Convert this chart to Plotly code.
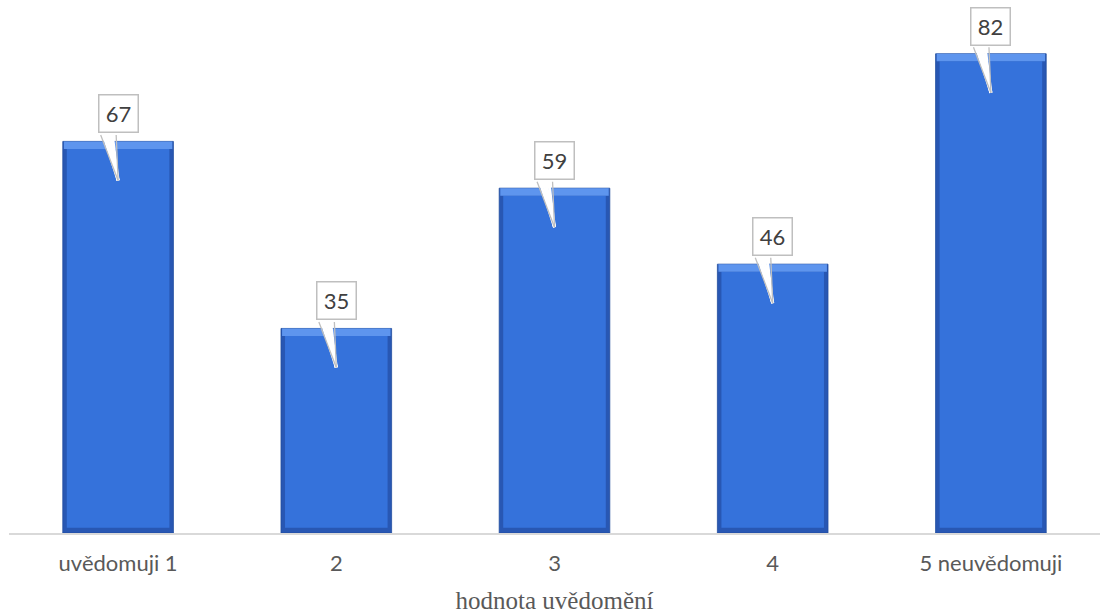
import plotly.graph_objects as go

categories = ["uvědomuji 1", "2", "3", "4", "5 neuvědomuji"]
counts = [67, 35, 59, 46, 82]

axis_title = "hodnota uvědomění"

BAR_W = 0.507
INNER_W = 0.47
BEVEL = 1.3  # height of the light top bevel, in data units
FOOT = 0.9   # darker strip at the bar foot

LABEL_FONT = "Lato, Open Sans, sans-serif"
CALLOUT_EDGE = "#BFBFBF"

x_idx = list(range(len(categories)))

fig = go.Figure()

# dark outer body (gives shaded sides and foot)
fig.add_trace(go.Bar(
    x=x_idx, y=counts, width=BAR_W,
    marker=dict(color="#2857B3", line=dict(color="#214C9E", width=0.8)),
    hoverinfo="skip", showlegend=False,
))

# main face of each bar
fig.add_trace(go.Bar(
    x=x_idx, y=[v - BEVEL - FOOT for v in counts], base=[FOOT] * len(counts),
    width=INNER_W,
    marker=dict(color="#3572DB", line=dict(width=0)),
    hoverinfo="skip", showlegend=False,
))

# light top bevel
fig.add_trace(go.Bar(
    x=x_idx, y=[BEVEL] * len(counts), base=[v - BEVEL for v in counts],
    width=BAR_W - 0.01,
    marker=dict(color="#5E95EE", line=dict(width=0)),
    hoverinfo="skip", showlegend=False,
))

# callout pointers: a white wedge with grey edges reaching into each bar
TIP_DEPTH = -39      # px below the bar top where the pointer ends
GAP_ABOVE = 8        # px between the bar top and the callout's lower edge
BOX_BOTTOM = TIP_DEPTH - GAP_ABOVE
for i, v in enumerate(counts):
    for dx in (-15, -12, -9, -6):
        fig.add_annotation(
            x=i, y=v, yshift=TIP_DEPTH, text="",
            showarrow=True, arrowhead=0, arrowwidth=3, arrowcolor="#FFFFFF",
            ax=dx, ay=BOX_BOTTOM,
        )
    for dx in (-18, -2):
        fig.add_annotation(
            x=i, y=v, yshift=TIP_DEPTH, text="",
            showarrow=True, arrowhead=0, arrowwidth=1.3, arrowcolor=CALLOUT_EDGE,
            ax=dx, ay=BOX_BOTTOM,
        )

# callout boxes with the value
for i, v in enumerate(counts):
    fig.add_annotation(
        x=i, y=v, yshift=GAP_ABOVE,
        text=str(v),
        showarrow=False,
        yanchor="bottom",
        bgcolor="#FFFFFF", bordercolor=CALLOUT_EDGE, borderwidth=1.5,
        borderpad=3, width=32, height=30,
        font=dict(family=LABEL_FONT, size=22, color="#404040"),
    )

fig.update_layout(
    width=1100, height=614,
    margin=dict(l=9, r=0, t=7, b=81),
    paper_bgcolor="#FFFFFF", plot_bgcolor="#FFFFFF",
    barmode="overlay", bargap=0.49,
    xaxis=dict(
        tickmode="array", tickvals=x_idx, ticktext=categories,
        range=[-0.5, 4.5],
        showgrid=False, zeroline=False,
        showline=True, linecolor="#D9D9D9", linewidth=1.5,
        ticks="", ticklabelstandoff=10,
        tickfont=dict(family=LABEL_FONT, size=22, color="#595959"),
        title=dict(text=axis_title, standoff=18,
                   font=dict(family="Liberation Serif, Times New Roman, serif",
                             size=25, color="#595959")),
    ),
    yaxis=dict(range=[0, 90], visible=False, showgrid=False, zeroline=False),
)

fig.write_html("out.html")
